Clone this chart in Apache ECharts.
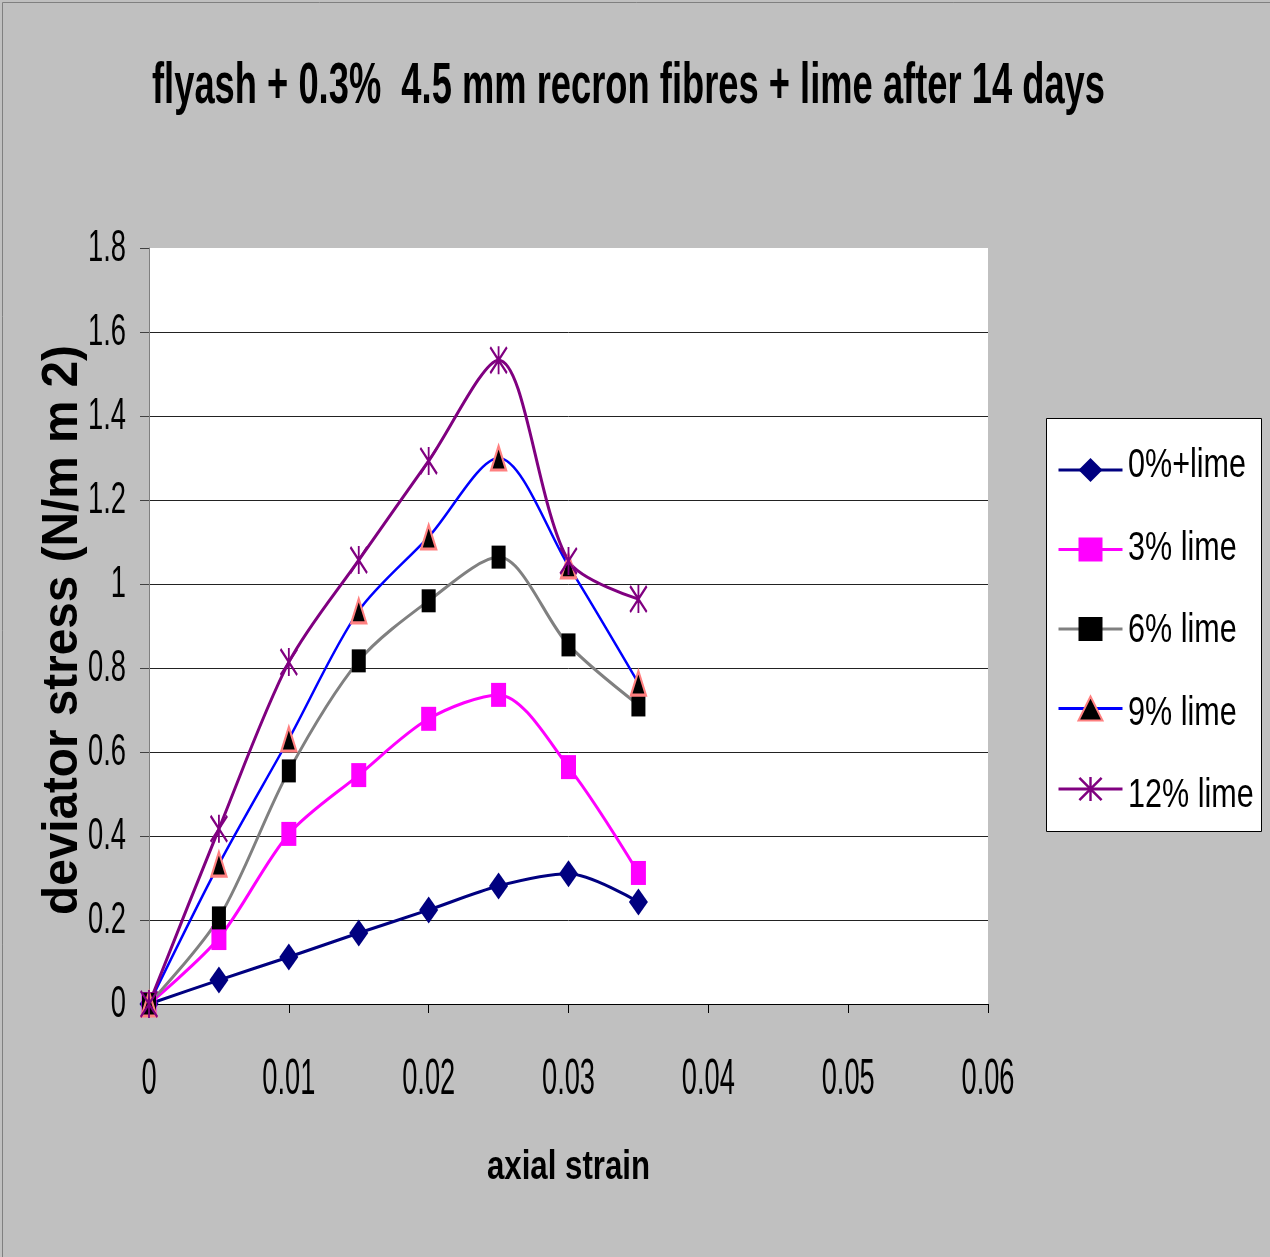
<!DOCTYPE html>
<html>
<head>
<meta charset="utf-8">
<script src="https://cdn.jsdelivr.net/npm/echarts@6/dist/echarts.min.js"></script>
<style>
  html, body { margin: 0; padding: 0; background: #C0C0C0; }
  #chart { width: 1270px; height: 1257px; }
</style>
</head>
<body>
<div id="chart"></div>
<script>
// axial strain readings (x) and deviator stress (N/mm2) for each lime content
const strain = [0, 0.005, 0.01, 0.015, 0.02, 0.025, 0.03, 0.035];
const lime0  = [0, 0.057, 0.112, 0.169, 0.224, 0.281, 0.310, 0.243];
const lime3  = [0, 0.157, 0.405, 0.545, 0.679, 0.736, 0.564, 0.312];
const lime6  = [0, 0.205, 0.555, 0.817, 0.960, 1.064, 0.855, 0.712];
const lime9  = [0, 0.333, 0.631, 0.936, 1.112, 1.300, 1.043, 0.764];
const lime12 = [0, 0.417, 0.814, 1.057, 1.293, 1.533, 1.055, 0.964];
const seriesNames = ['0%+lime', '3% lime', '6% lime', '9% lime', '12% lime'];
const xTicks = [0, 0.01, 0.02, 0.03, 0.04, 0.05, 0.06];
const yTicks = [0, 0.2, 0.4, 0.6, 0.8, 1, 1.2, 1.4, 1.6, 1.8];
const titleText = 'flyash + 0.3%  4.5 mm recron fibres + lime after 14 days';
const xName = 'axial strain';
const yName = 'deviator stress (N/m m 2)';

const FONT = '"Liberation Sans", Arial, sans-serif';

// asterisk marker: vertical stroke plus two diagonals, all wound the same way
const STAR = 'path://M9,0L11,0L11,20L9,20Z M1.5,0L20,18.5L18.5,20L0,1.5Z M18.5,0L20,1.5L1.5,20L0,18.5Z';

function pairs(ys) { return strain.map((x, i) => [x, ys[i]]); }

// the chart lettering is a narrow face: draw Liberation Sans squeezed horizontally
const measureCtx = document.createElement('canvas').getContext('2d');
function squeeze(text, size, weight, targetWidth) {
  measureCtx.font = weight + ' ' + size + 'px ' + FONT;
  return targetWidth / measureCtx.measureText(text).width;
}
function label(text, x, y, size, weight, align, sx, rot) {
  return {
    type: 'text', x: x, y: y, scaleX: sx, rotation: rot || 0, z: 10, silent: true,
    style: {
      text: text, fontFamily: FONT, fontSize: size, fontWeight: weight,
      fill: '#000', align: align, verticalAlign: 'middle'
    }
  };
}

const chart = echarts.init(document.getElementById('chart'), null, { renderer: 'canvas' });

const base = { type: 'line', smooth: 0.3, symbolKeepAspect: false, z: 3 };

// legend layout
const LEG_TOP = 450, LEG_ITEM_H = 30, LEG_GAP = 52.5;

chart.setOption({
  backgroundColor: '#C0C0C0',
  animation: false,
  grid: {
    left: 149, top: 248, right: 282, bottom: 253,
    show: true, backgroundColor: '#FFFFFF', borderWidth: 0
  },
  legend: {
    orient: 'vertical', left: 1052, top: LEG_TOP,
    itemWidth: 64, itemHeight: LEG_ITEM_H, itemGap: LEG_GAP,
    lineStyle: { width: 3 },
    formatter: () => '',
    textStyle: { fontSize: 8 },
    data: seriesNames
  },
  xAxis: {
    type: 'value', min: 0, max: 0.06, interval: 0.01,
    axisLine: { show: true, lineStyle: { color: '#000', width: 1 } },
    axisTick: { show: true, inside: false, length: 9, lineStyle: { color: '#000' } },
    axisLabel: { show: false },
    splitLine: { show: false }
  },
  yAxis: {
    type: 'value', min: 0, max: 1.8, interval: 0.2,
    axisLine: { show: true, lineStyle: { color: '#808080', width: 1 } },
    axisTick: { show: true, inside: false, length: 9, lineStyle: { color: '#404040' } },
    axisLabel: { show: false },
    splitLine: { show: true, showMaxLine: false, lineStyle: { color: '#222', width: 1 } }
  },
  series: [
    Object.assign({}, base, {
      name: seriesNames[0], data: pairs(lime0),
      symbol: 'diamond', symbolSize: [19, 27],
      lineStyle: { color: '#000080', width: 3 },
      itemStyle: { color: '#000080' }
    }),
    Object.assign({}, base, {
      name: seriesNames[1], data: pairs(lime3),
      symbol: 'rect', symbolSize: [15, 24],
      lineStyle: { color: '#FF00FF', width: 3 },
      itemStyle: { color: '#FF00FF' }
    }),
    Object.assign({}, base, {
      name: seriesNames[2], data: pairs(lime6),
      symbol: 'rect', symbolSize: [14, 23],
      lineStyle: { color: '#808080', width: 3 },
      itemStyle: { color: '#000000' }
    }),
    Object.assign({}, base, {
      name: seriesNames[3], data: pairs(lime9),
      symbol: 'triangle', symbolSize: [15, 24],
      lineStyle: { color: '#0000FF', width: 2.5 },
      itemStyle: { color: '#000000', borderColor: '#FF8080', borderWidth: 2.5 }
    }),
    Object.assign({}, base, {
      name: seriesNames[4], data: pairs(lime12),
      symbol: STAR, symbolSize: [18, 28],
      lineStyle: { color: '#800080', width: 3 },
      itemStyle: { color: '#800080' }
    })
  ]
});

// text layer: title, tick labels, axis names and legend labels
const gfx = [
  { type: 'rect', left: 1046, top: 418, z: -1, silent: true,
    shape: { width: 215, height: 413 },
    style: { fill: '#FFFFFF', stroke: '#000', lineWidth: 1 } },
  { type: 'rect', left: 0, top: 0, z: -2, silent: true,
    shape: { width: 1269, height: 1256 },
    style: { fill: 'none', stroke: '#808080', lineWidth: 1 } }
];

gfx.push(label(titleText, 628.5, 87, 58, 'bold', 'center', squeeze(titleText, 58, 'bold', 953)));

const sxX = squeeze('0.01', 50, 'normal', 53);
xTicks.forEach(v => {
  const px = chart.convertToPixel({ xAxisIndex: 0 }, v);
  gfx.push(label(String(v), px, 1080, 50, 'normal', 'center', sxX));
});

const sxY = squeeze('1.8', 45, 'normal', 38);
yTicks.forEach(v => {
  const py = chart.convertToPixel({ yAxisIndex: 0 }, v);
  gfx.push(label(String(v), 126, py + 1, 45, 'normal', 'right', sxY));
});

gfx.push(label(xName, 568.5, 1168, 40, 'bold', 'center', squeeze(xName, 40, 'bold', 163)));
gfx.push(label(yName, 63, 630, 50, 'bold', 'center', squeeze(yName, 50, 'bold', 570), Math.PI / 2));

const sxL = squeeze('0%+lime', 40, 'normal', 118);
seriesNames.forEach((n, i) => {
  const cy = LEG_TOP + LEG_ITEM_H / 2 + i * (LEG_ITEM_H + LEG_GAP);
  gfx.push(label(n, 1128, cy + 1, 40, 'normal', 'left', sxL));
});

chart.setOption({ graphic: gfx });
</script>
</body>
</html>
